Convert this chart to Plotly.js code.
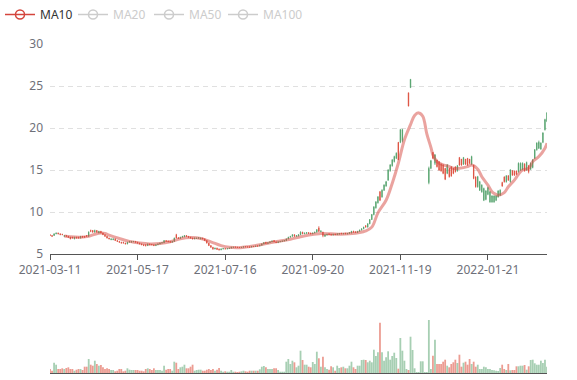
<!DOCTYPE html>
<html><head><meta charset="utf-8">
<script src="https://cdn.plot.ly/plotly-3.0.1.min.js"></script>
<style>html,body{margin:0;padding:0;background:#fff}#chart{width:577px;height:380px}</style>
</head><body><div id="chart"></div>
<script>
// Category axis: trading-day index; tick labels shown every 43 trading days
const tickIndex = [0, 43, 86, 129, 172, 215];
const tickLabels = ['2021-03-11', '2021-05-17', '2021-07-16', '2021-09-20', '2021-11-19', '2022-01-21'];

const openP = [
7.3,7.2,7.2,7.4,7.5,7.4,7.35,7.1,7.2,7.1,
7.0,7.0,6.8,7.0,7.0,6.9,7.1,7.1,7.2,7.1,
7.8,7.8,7.6,7.8,7.5,7.7,7.5,7.3,7.1,6.9,
6.7,6.7,6.8,6.6,6.5,6.4,6.4,6.3,6.2,6.4,
6.4,6.45,6.5,6.4,6.3,6.2,6.1,6.1,6.0,6.2,
6.15,6.1,6.0,6.1,6.2,6.3,6.35,6.6,6.55,6.5,
6.4,6.5,7.3,6.95,6.85,7.0,7.05,7.2,7.1,7.0,
6.9,6.8,6.85,6.85,6.8,6.9,6.8,6.6,6.3,6.0,
5.8,5.6,5.7,5.6,5.5,5.6,5.65,5.6,5.65,5.7,
5.78,5.84,5.82,5.8,5.76,5.8,5.88,5.86,5.86,5.82,
5.92,5.88,5.98,5.95,6.05,6.2,6.4,6.25,6.35,6.45,
6.6,6.45,6.35,6.45,6.5,6.55,6.6,6.8,7.0,7.1,
7.3,7.1,7.15,7.3,7.6,7.4,7.45,7.55,7.5,7.4,
7.5,7.6,8.1,7.65,7.6,7.1,7.25,7.4,7.35,7.25,
7.38,7.3,7.35,7.48,7.38,7.48,7.38,7.45,7.5,7.72,
7.65,7.55,7.7,7.85,8.0,8.35,8.2,8.6,9.1,9.7,
10.5,11.1,12.4,11.8,12.6,13.1,13.8,14.9,15.5,16.0,
16.4,18.3,18.3,18.5,null,null,24.2,24.8,null,null,
null,null,null,null,null,null,13.5,15.2,17.1,15.8,
16.2,16.0,15.7,15.6,15.2,14.6,15.2,15.4,15.2,15.4,
14.9,16.5,16.3,15.7,16.3,16.4,16.3,15.7,15.6,14.2,
13.0,12.6,12.4,11.4,11.5,12.1,11.2,11.2,11.2,11.4,
11.8,12.0,13.5,14.2,13.6,14.3,13.6,14.9,14.9,14.9,
14.8,15.0,15.1,15.7,15.0,15.5,15.1,15.3,16.4,17.4,
17.6,17.5,18.3,19.8,20.8];

const closeP = [
7.2,7.1,7.4,7.5,7.4,7.3,7.3,7.2,7.1,7.0,
6.8,6.9,7.0,6.9,6.9,7.1,7.0,7.0,7.1,7.6,
7.7,7.6,7.8,7.6,7.7,7.5,7.3,7.1,6.9,6.8,
6.8,6.8,6.6,6.5,6.4,6.3,6.3,6.2,6.4,6.5,
6.5,6.5,6.4,6.3,6.2,6.1,6.0,6.0,6.2,6.1,
6.1,6.0,6.1,6.2,6.3,6.35,6.6,6.5,6.45,6.4,
6.5,6.9,6.9,6.85,7.0,7.1,7.2,7.1,7.0,6.9,
6.8,6.9,6.9,6.95,6.9,6.8,6.6,6.3,6.0,5.8,
5.6,5.7,5.55,5.5,5.6,5.65,5.6,5.65,5.7,5.8,
5.82,5.8,5.78,5.76,5.8,5.86,5.84,5.82,5.8,5.9,
5.88,5.95,5.93,6.05,6.2,6.35,6.25,6.35,6.45,6.55,
6.45,6.35,6.45,6.5,6.55,6.6,6.8,7.0,7.1,7.3,
7.1,7.2,7.3,7.6,7.4,7.5,7.55,7.45,7.4,7.5,
7.6,7.9,7.7,7.75,7.2,7.3,7.35,7.3,7.25,7.35,
7.3,7.4,7.45,7.4,7.45,7.4,7.45,7.55,7.7,7.6,
7.55,7.7,7.85,8.0,8.2,8.2,8.6,9.1,9.7,10.6,
11.2,11.8,11.4,12.6,13.2,13.6,15.0,15.6,16.2,16.6,
17.0,16.2,19.8,19.8,null,null,22.6,25.8,null,null,
null,null,null,null,null,null,15.2,16.1,16.4,16.8,
15.4,15.0,14.9,14.6,13.9,15.6,14.2,14.3,14.6,14.8,
15.5,15.6,15.6,16.5,15.7,15.6,15.8,16.6,14.0,13.0,
14.2,13.6,13.2,12.8,12.5,12.9,12.4,11.9,11.9,11.9,
12.5,12.6,13.1,13.6,14.3,13.8,15.0,14.4,14.4,14.5,
15.8,15.8,15.8,14.9,15.9,14.8,15.8,16.2,17.4,18.2,
18.3,18.2,19.4,21.0,21.8];

const highP = [
7.35,7.25,7.45,7.55,7.55,7.45,7.4,7.25,7.25,7.15,
7.05,7.05,7.05,7.05,7.05,7.15,7.15,7.15,7.25,7.7,
7.9,7.85,7.9,7.85,7.75,7.75,7.55,7.35,7.15,6.95,
6.85,6.85,6.85,6.65,6.55,6.45,6.45,6.35,6.45,6.55,
6.55,6.55,6.55,6.45,6.35,6.25,6.15,6.15,6.25,6.25,
6.2,6.15,6.15,6.25,6.35,6.4,6.65,6.65,6.6,6.55,
6.55,6.95,7.4,7.0,7.05,7.15,7.25,7.25,7.15,7.05,
6.95,6.95,6.95,7.0,6.95,6.95,6.85,6.65,6.35,6.05,
5.85,5.75,5.75,5.65,5.65,5.7,5.7,5.7,5.75,5.85,
5.86,5.88,5.86,5.84,5.84,5.9,5.92,5.9,5.9,5.95,
5.96,6.0,6.02,6.1,6.25,6.4,6.45,6.4,6.5,6.6,
6.65,6.5,6.5,6.55,6.6,6.65,6.85,7.05,7.15,7.35,
7.35,7.25,7.35,7.7,7.65,7.55,7.6,7.6,7.55,7.55,
7.65,7.95,8.3,7.8,7.65,7.35,7.4,7.45,7.4,7.4,
7.42,7.45,7.5,7.52,7.5,7.52,7.5,7.6,7.75,7.76,
7.7,7.75,7.9,8.05,8.25,8.45,8.65,9.15,9.75,10.7,
11.3,11.9,12.5,12.7,13.3,13.7,15.1,15.7,16.3,16.7,
17.1,18.3,19.9,19.9,null,null,24.2,25.8,null,null,
null,null,null,null,null,null,15.4,16.2,17.1,16.9,
16.2,16.0,15.8,15.7,15.2,15.7,15.2,15.4,15.2,15.4,
15.6,16.5,16.3,16.5,16.3,16.4,16.3,16.7,15.6,14.2,
14.3,13.7,13.3,12.9,12.6,13.0,12.5,12.0,12.0,12.0,
12.6,12.7,13.6,14.2,14.4,14.4,15.1,15.0,14.9,14.9,
15.9,15.9,15.9,15.8,16.0,15.6,15.9,16.3,17.5,18.3,
18.5,18.3,19.5,21.1,21.9];

const lowP = [
7.15,7.05,7.15,7.35,7.35,7.25,7.25,7.05,7.05,6.95,
6.75,6.85,6.75,6.85,6.85,6.85,6.95,6.95,7.05,7.05,
7.6,7.55,7.55,7.55,7.45,7.45,7.25,7.05,6.85,6.75,
6.65,6.65,6.55,6.45,6.35,6.25,6.25,6.15,6.15,6.35,
6.35,6.4,6.35,6.25,6.15,6.05,5.95,5.9,5.95,6.05,
6.05,5.95,5.95,6.05,6.15,6.25,6.3,6.45,6.4,6.35,
6.35,6.45,6.85,6.8,6.8,6.95,7.0,7.05,6.95,6.85,
6.75,6.75,6.8,6.8,6.75,6.75,6.55,6.25,5.95,5.75,
5.5,5.55,5.5,5.42,5.45,5.55,5.55,5.55,5.6,5.65,
5.74,5.76,5.74,5.72,5.72,5.76,5.8,5.8,5.76,5.78,
5.84,5.84,5.88,5.9,6.0,6.15,6.2,6.2,6.3,6.4,
6.4,6.3,6.3,6.4,6.45,6.5,6.55,6.75,6.95,7.05,
7.05,7.05,7.1,7.25,7.35,7.35,7.4,7.4,7.35,7.35,
7.45,7.55,7.6,7.6,7.0,7.05,7.2,7.25,7.2,7.2,
7.25,7.25,7.3,7.35,7.33,7.35,7.33,7.4,7.45,7.55,
7.5,7.5,7.65,7.8,7.95,8.15,8.15,8.55,9.05,9.6,
10.4,11.0,11.3,11.7,12.5,13.0,13.7,14.8,15.4,15.9,
16.3,16.2,18.2,18.3,null,null,22.6,24.8,null,null,
null,null,null,null,null,null,13.3,15.1,16.3,15.6,
15.3,14.9,14.8,14.5,13.8,14.5,14.1,14.2,14.5,14.7,
14.8,15.5,15.5,15.6,15.6,15.5,15.7,15.6,13.9,12.9,
12.9,12.5,12.3,11.3,11.4,12.0,11.1,11.1,11.1,11.3,
11.7,11.9,13.0,13.5,13.5,13.7,13.5,14.3,14.3,14.4,
14.7,14.9,15.0,14.8,14.9,14.6,15.0,15.2,16.3,17.3,
17.5,17.4,18.2,19.7,20.7];

const volume = [
4,2.3,10.3,8.3,4,4,4.7,4,5,5.7,
4,4,2.3,3.3,4,4,3,6.3,6.3,14,
8.3,7.3,12.3,9,7.3,8,5.7,4,4.7,4,
3,3,1.7,2.3,4,4,1.7,2.3,4.7,3.3,
3,3,3,3,2.3,2.3,1.7,4,4.7,4,
3,4.7,3,3,3,2.3,7.3,3.3,4,4,
2.3,11.3,10.3,4,5.7,6.3,8.3,4.7,4.7,6.3,
8.3,2.3,3,3.3,3.3,2.3,2.3,3.3,4,3,
4,2.3,3.3,5,2.3,1.3,1.7,1.3,1.3,3,
1.3,1.3,1,1.3,1.7,2.3,1.7,1.3,2.3,2.3,
2.3,2.3,2.3,3.7,6.3,7,5.7,4,4,4,
4.7,4.7,3,1.3,1.3,1.3,11.3,14,9,12.3,
10.7,5.7,7.3,22.3,13,8.3,8.3,6.3,5.7,11,
9,21.3,14.7,6.3,16.3,5.7,4,3.3,6.7,5.7,
2.3,7.3,5,5.7,6.3,4.7,4.7,7.3,11.3,5.7,
4,7.3,7.3,13,13.3,13,10.7,12.3,10.7,23.3,
17,20.7,50.3,20.7,12.3,15.7,21.7,13.3,17,20.3,
15,4.3,35,22.3,12.3,4,3,36.3,23,4.7,
1,1,11.7,11.7,1,1,53,4,17.3,33.3,
9,9,9,11.3,13.3,7.3,5.7,9,10.7,13.3,
10,18.3,6.3,10.3,11.3,8.3,14,9,11.3,6.3,
8.3,4,4,6.3,5.7,4,4,3,2.7,2.3,
2,5,8.3,4,3,9,2.7,3,3,6.7,
6.7,7.3,7.3,8,3.3,6.7,13,13.3,9.7,8.3,
8.3,12.3,10,13.3,6.3];

// MA10 at these trading-day indices
const ma10Index = [7,10,15,19,22,25,27,29,34,39,44,49,54,59,64,69,74,79,84,88,93,98,103,108,113,118,123,128,133,138,143,147,152,155,158,161,165,168,171,174,177,179,181,183,185,187,188,190,193,195,198,201,205,207,210,212,215,217,219,220,223,225,228,230,232,235,237,240,243,244];
const ma10 = [7.15,7.05,7.0,7.1,7.35,7.5,7.45,7.25,6.85,6.5,6.3,6.2,6.25,6.45,6.8,6.95,6.85,6.45,6.0,5.8,5.75,5.9,6.1,6.35,6.55,6.75,7.05,7.3,7.45,7.4,7.35,7.4,7.55,7.75,8.2,9.9,11.4,13.4,15.8,18.6,20.4,21.5,21.8,21.4,19.3,17.7,16.8,16.0,15.6,15.5,15.2,15.2,15.4,15.6,15.1,14.2,13.2,12.4,12.1,12.0,12.3,13.0,13.8,14.5,15.0,15.2,16.0,16.6,17.6,18.2];

const seriesNames = ['MA10', 'MA20', 'MA50', 'MA100'];

const UP = '#4f9f68', DOWN = '#dc4a38';
const UP_V = 'rgba(79,159,104,0.5)', DOWN_V = 'rgba(220,74,56,0.55)';
const FONT = 'Noto Sans, DejaVu Sans, sans-serif';

const days = closeP.map((_, i) => i);
const volColors = closeP.map((c, i) => (c === null || c >= openP[i]) ? UP_V : DOWN_V);
const N = closeP.length;

const legendOf = {MA20: 'legend2', MA50: 'legend2', MA100: 'legend3'};

const traces = [
  {
    type: 'candlestick', x: days, open: openP, high: highP, low: lowP, close: closeP,
    xaxis: 'x', yaxis: 'y', showlegend: false, hoverinfo: 'skip', whiskerwidth: 0,
    increasing: {line: {color: UP, width: 0.8}, fillcolor: UP},
    decreasing: {line: {color: DOWN, width: 0.8}, fillcolor: DOWN}
  },
  {
    type: 'scatter', mode: 'lines', x: ma10Index, y: ma10, xaxis: 'x', yaxis: 'y',
    name: 'MA10', legendgroup: 'ma10', showlegend: false, hoverinfo: 'skip',
    line: {color: 'rgba(214,72,64,0.5)', width: 3, shape: 'spline', smoothing: 1}
  },
  {
    type: 'scatter', mode: 'lines+markers', x: [null], y: [null], name: seriesNames[0], legendgroup: 'ma10',
    legend: 'legend', showlegend: true, hoverinfo: 'skip', line: {color: '#d4453c', width: 1.5},
    marker: {symbol: 'circle-open', size: 9, color: '#d4453c', line: {width: 1.5}}
  },
  ...seriesNames.slice(1).map(n => ({
    type: 'scatter', mode: 'lines+markers', x: [null], y: [null], name: n, legend: legendOf[n],
    showlegend: true, hoverinfo: 'skip',
    line: {color: '#cccccc', width: 1.5},
    marker: {symbol: 'circle-open', size: 9, color: '#cccccc', line: {width: 1.5}}
  })),
  {
    type: 'bar', x: days, y: volume, xaxis: 'x2', yaxis: 'y2', showlegend: false, hoverinfo: 'skip',
    marker: {color: volColors, line: {width: 0}}
  }
];

const PL = 50, PR = 30, PT = 44, PB = 7, H = 380, W = 577;
const plotH = H - PT - PB, plotW = W - PL - PR;
const legendBase = {
  orientation: 'h', xanchor: 'left', y: 1 + PT / plotH, yanchor: 'top',
  bgcolor: 'rgba(0,0,0,0)', itemwidth: 30
};

const layout = {
  width: W, height: H,
  margin: {l: PL, r: PR, t: PT, b: PB, autoexpand: false},
  paper_bgcolor: '#fff', plot_bgcolor: '#fff',
  font: {family: FONT, size: 12, color: '#6e7079'},
  showlegend: true,
  bargap: 0.12,
  boxgap: 0.7,
  xaxis: {
    domain: [0, 1], anchor: 'y', range: [0, N - 1], rangeslider: {visible: false},
    tickmode: 'array', tickvals: tickIndex, ticktext: tickLabels,
    showline: true, linecolor: '#555', linewidth: 1,
    ticks: 'outside', ticklen: 5, tickcolor: '#555', showgrid: false, zeroline: false,
    tickfont: {size: 12, color: '#6e7079'}, fixedrange: true, automargin: false
  },
  yaxis: {
    domain: [(H - PB - 254) / plotH, 1], anchor: 'x', range: [5, 30],
    tickvals: [5, 10, 15, 20, 25, 30], showgrid: true, gridcolor: '#e0e0e0', griddash: '5px,4px',
    zeroline: false, showline: false, ticks: '', ticklabelstandoff: 6,
    tickfont: {size: 12, color: '#6e7079'}, automargin: false
  },
  xaxis2: {
    domain: [0, 1], anchor: 'y2', range: [0, N - 1], rangeslider: {visible: false},
    showline: true, linecolor: '#555', linewidth: 1, showticklabels: false, ticks: '',
    showgrid: false, zeroline: false
  },
  yaxis2: {
    domain: [0, (H - PB - 318) / plotH], anchor: 'x2', range: [0, 55],
    showgrid: false, showticklabels: false, zeroline: false, showline: false, ticks: ''
  },
  legend: Object.assign({}, legendBase, {
    x: -PL / plotW, font: {family: FONT, size: 12, color: '#333'}
  }),
  legend2: Object.assign({}, legendBase, {
    x: (73 - PL) / plotW, font: {family: FONT, size: 12, color: '#cccccc'},
    entrywidth: 31, entrywidthmode: 'pixels'
  }),
  legend3: Object.assign({}, legendBase, {
    x: (223 - PL) / plotW, font: {family: FONT, size: 12, color: '#cccccc'}
  })
};

Plotly.newPlot('chart', traces, layout, {displayModeBar: false, staticPlot: true});
</script>
</body></html>
